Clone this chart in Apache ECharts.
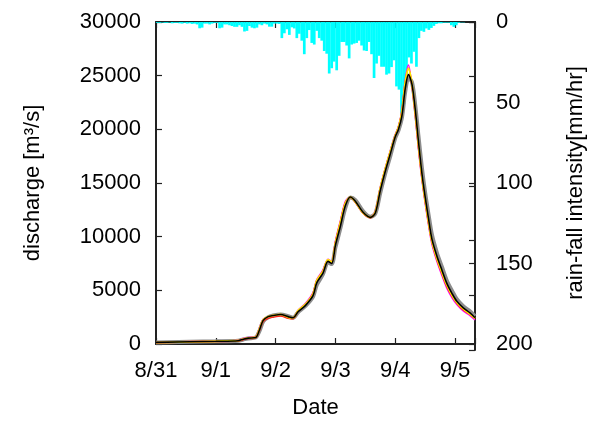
<!DOCTYPE html>
<html>
<head>
<meta charset="utf-8">
<script src="https://cdn.jsdelivr.net/npm/echarts@6/dist/echarts.min.js"></script>
<style>
  html, body { margin: 0; padding: 0; background: #fff; }
  #main { width: 595px; height: 424px; }
</style>
</head>
<body>
<div id="main"></div>
<script>
const dateLabels = ["8/31", "9/1", "9/2", "9/3", "9/4", "9/5"];

// hourly rainfall from 8/31 00:00 [mm/hr]
const rain = [
  0.5, 0.5, 0.3, 0.5, 0.5, 0.3, 0.8, 0.5, 0.5, 0.8,
  1, 0.5, 1, 0.8, 1.2, 1, 1.5, 3.9, 3.5, 1,
  1, 1.5, 1, 0.5, 0.5, 3.9, 3.5, 1.5, 1.5, 2,
  2.5, 3, 3, 2, 3, 5.9, 5.5, 2.5, 3.5, 3.9,
  3.5, 1.5, 2, 1, 1.5, 2.9, 2.9, 1, 1, 1.2,
  10, 7, 4.5, 8, 3.3, 4, 10, 7.3, 11.6, 20,
  10, 5, 13, 14, 5.5, 10, 11.6, 18, 19.7, 32,
  28.7, 24.6, 30, 21, 12.4, 12.4, 14.6, 22.6, 14, 13.4,
  13, 11.6, 14.6, 17.7, 18, 12.4, 20, 34.8, 25.8, 21,
  27.8, 27.8, 32.7, 32, 28, 23.8, 40, 42, 56.7, 51,
  34, 22, 25.8, 18.5, 27.8, 10, 5.5, 6.1, 4, 4.9,
  3.7, 2.4, 1.2, 0.8, 0.8, 0.4, 0.4, 0.4, 2, 3,
  2, 0.5, 0.2, 0.2, 0, 0, 0, 0
];

// discharge sample times [hours from 8/31 00:00]
const hours = [
  0, 24, 33, 35, 37, 40, 41.5, 43, 45, 47,
  50, 53, 55, 57, 60, 63, 64.5, 67, 69, 70.5,
  72, 74, 76, 78, 80, 83, 86, 88, 90, 92,
  94, 96, 97.3, 98.7, 100, 101.3, 102.7, 104, 105.3, 106.7,
  108, 109.4, 110.7, 112.7, 114.7, 116.7, 118.8, 120.8, 123.4, 126, 128
];

const qGray = [
  150, 250, 300, 420, 520, 600, 1200, 2100, 2500, 2650,
  2750, 2600, 2450, 2950, 3550, 4400, 5500, 6500, 7600, 7450,
  9000, 10800, 12700, 13650, 13400, 12400, 11850, 12150, 14100, 15900,
  17500, 19200, 19900, 21100, 23500, 24800, 24400, 22300, 19400, 16400,
  14100, 12000, 10200, 8500, 7200, 5900, 4950, 4150, 3500, 3050, 2600
];
const qMagenta = [
  150, 280, 350, 520, 600, 700, 1500, 2300, 2500, 2600,
  2700, 2450, 2450, 3150, 3800, 4800, 6000, 6900, 7900, 7700,
  9600, 11500, 13300, 13700, 13200, 12200, 11800, 12400, 14600, 16400,
  18000, 19500, 20300, 21800, 24600, 26000, 24000, 21300, 18200, 15300,
  13100, 11000, 9300, 7700, 6400, 5200, 4300, 3650, 3050, 2650, 2250
];
const qRed = [
  120, 230, 280, 400, 500, 580, 1250, 2100, 2400, 2500,
  2600, 2400, 2350, 3050, 3700, 4700, 5900, 6800, 7800, 7600,
  9500, 11400, 13200, 13650, 13200, 12200, 11750, 12300, 14500, 16300,
  17900, 19400, 20200, 21700, 24400, 25700, 24100, 21500, 18400, 15500,
  13300, 11200, 9500, 7850, 6550, 5350, 4450, 3750, 3150, 2750, 2350
];
const qYellow = [
  150, 260, 320, 480, 570, 650, 1400, 2250, 2550, 2650,
  2750, 2500, 2450, 3100, 3700, 4650, 5900, 6750, 7850, 7650,
  9400, 11300, 13100, 13700, 13250, 12250, 11800, 12300, 14500, 16300,
  17900, 19400, 20200, 21600, 24300, 25700, 24200, 21600, 18600, 15600,
  13400, 11300, 9600, 8000, 6700, 5500, 4550, 3850, 3250, 2800, 2400
];
const qBlack = [
  150, 250, 300, 450, 550, 600, 1300, 2200, 2550, 2650,
  2750, 2550, 2440, 3000, 3600, 4500, 5700, 6600, 7700, 7500,
  9200, 11000, 12900, 13700, 13300, 12300, 11800, 12200, 14300, 16100,
  17700, 19300, 20000, 21300, 23800, 25100, 24200, 21900, 18900, 15900,
  13700, 11600, 9800, 8200, 6900, 5650, 4700, 3950, 3350, 2900, 2450
];

const FONT = "Liberation Sans";
const FS = 22;
const pair = (q) => hours.map((h, i) => [h, q[i]]);

const chart = echarts.init(document.getElementById("main"));

const tickIn = () => ({ show: true, inside: true, length: 6, lineStyle: { color: "#222", width: 1.2 } });
const frameLine = () => ({ show: true, onZero: false, lineStyle: { color: "#222", width: 2 } });
const txt = () => ({ fontSize: FS, color: "#000", fontFamily: FONT });

function lineSeries(q, color, width) {
  return {
    type: "line",
    data: pair(q),
    xAxisIndex: 0,
    yAxisIndex: 0,
    showSymbol: false,
    smooth: 0.3,
    lineStyle: { color: color, width: width },
    z: 3
  };
}

chart.setOption({
  animation: false,
  // second grid on the same rectangle only carries the mirrored discharge ticks
  grid: [
    { left: 156, top: 22, width: 319, height: 328 },
    { left: 156, top: 22, width: 319, height: 328 }
  ],
  textStyle: { fontFamily: FONT },
  xAxis: [
    {
      type: "value",
      gridIndex: 0,
      position: "bottom",
      min: 0,
      max: 128,
      interval: 24,
      name: "Date",
      nameLocation: "middle",
      nameGap: 53,
      nameTextStyle: txt(),
      axisLine: frameLine(),
      axisTick: tickIn(),
      splitLine: { show: false },
      axisLabel: Object.assign(txt(), {
        margin: 16,
        formatter: (v) => (v % 24 === 0 ? dateLabels[v / 24] : "")
      })
    },
    {
      type: "value",
      gridIndex: 0,
      position: "top",
      min: 0,
      max: 128,
      interval: 24,
      axisLine: frameLine(),
      axisTick: tickIn(),
      splitLine: { show: false },
      axisLabel: { show: false }
    },
    {
      type: "value",
      gridIndex: 1,
      min: 0,
      max: 128,
      show: false
    }
  ],
  yAxis: [
    {
      type: "value",
      gridIndex: 0,
      position: "left",
      min: 0,
      max: 30000,
      interval: 5000,
      name: "discharge [m\u00b3/s]",
      nameLocation: "middle",
      nameRotate: 90,
      nameGap: 112,
      nameTextStyle: txt(),
      axisLine: frameLine(),
      axisTick: tickIn(),
      splitLine: { show: false },
      axisLabel: Object.assign(txt(), { margin: 15, formatter: (v) => String(v) })
    },
    {
      type: "value",
      gridIndex: 0,
      position: "right",
      inverse: true,
      min: 0,
      max: 200,
      interval: 50,
      name: "rain-fall intensity[mm/hr]",
      nameLocation: "middle",
      nameRotate: 90,
      nameGap: 90,
      nameTextStyle: txt(),
      axisLine: frameLine(),
      axisTick: tickIn(),
      splitLine: { show: false },
      axisLabel: Object.assign(txt(), { margin: 21, formatter: (v) => String(v) })
    },
    {
      type: "value",
      gridIndex: 1,
      position: "right",
      min: 0,
      max: 30000,
      interval: 5000,
      axisLine: frameLine(),
      axisTick: tickIn(),
      splitLine: { show: false },
      axisLabel: { show: false }
    }
  ],
  series: [
    {
      type: "bar",
      data: rain.map((v, i) => [i + 0.5, v]),
      xAxisIndex: 1,
      yAxisIndex: 1,
      barWidth: 2.7,
      itemStyle: { color: "#00ffff" },
      z: 2
    },
    lineSeries(qGray, "#8c8c8c", 4),
    lineSeries(qMagenta, "#ff00ff", 1.5),
    lineSeries(qRed, "#ff2020", 1.5),
    lineSeries(qYellow, "#ffee00", 2),
    lineSeries(qBlack, "#000000", 1.6)
  ]
});
</script>
</body>
</html>
